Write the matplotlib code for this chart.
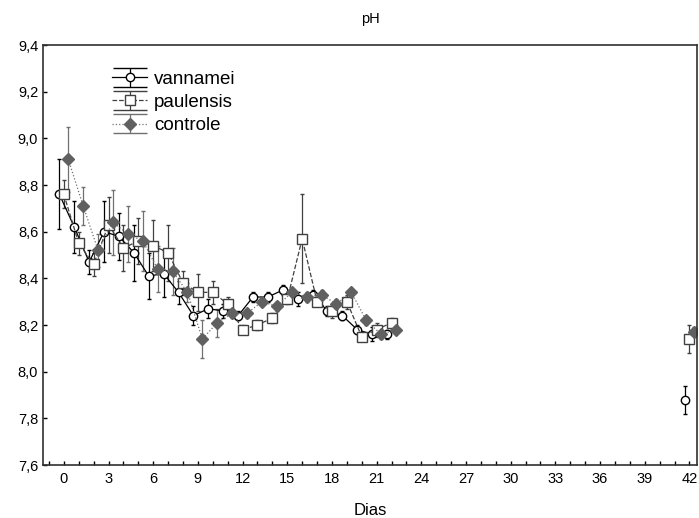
import numpy as np
import matplotlib
matplotlib.use('Agg')
import matplotlib.pyplot as plt
from matplotlib.lines import Line2D
from matplotlib.ticker import MultipleLocator, FuncFormatter

plt.rcParams['font.family'] = ['Liberation Sans', 'DejaVu Sans']

dias = [0, 1, 2, 3, 4, 5, 6, 7, 8, 9, 10, 11, 12, 13, 14, 15, 16, 17, 18,
        19, 20, 21, 22]
dia_final = [42]

vannamei = [8.76, 8.62, 8.47, 8.60, 8.58, 8.51, 8.41, 8.42, 8.34, 8.24, 8.27,
            8.26, 8.24, 8.32, 8.32, 8.35, 8.31, 8.33, 8.26, 8.24, 8.18, 8.16,
            8.16]
vannamei_err = [0.15, 0.11, 0.05, 0.13, 0.10, 0.12, 0.10, 0.10, 0.05, 0.04,
                0.04, 0.03, 0.02, 0.02, 0.02, 0.02, 0.03, 0.02, 0.02, 0.02,
                0.02, 0.03, 0.02]
paulensis = [8.76, 8.55, 8.46, 8.63, 8.53, 8.56, 8.54, 8.51, 8.38, 8.34, 8.34,
             8.29, 8.18, 8.20, 8.23, 8.31, 8.57, 8.30, 8.26, 8.30, 8.15, 8.18,
             8.21]
paulensis_err = [0.06, 0.05, 0.05, 0.12, 0.10, 0.10, 0.11, 0.12, 0.05, 0.08,
                 0.05, 0.03, 0.02, 0.02, 0.02, 0.02, 0.19, 0.02, 0.03, 0.03,
                 0.02, 0.03, 0.02]
controle = [8.91, 8.71, 8.52, 8.64, 8.59, 8.56, 8.44, 8.43, 8.34, 8.14, 8.21,
            8.25, 8.25, 8.30, 8.28, 8.34, 8.32, 8.33, 8.29, 8.34, 8.22, 8.16,
            8.18]
controle_err = [0.14, 0.08, 0.07, 0.14, 0.12, 0.13, 0.10, 0.10, 0.04, 0.08,
                0.06, 0.02, 0.02, 0.02, 0.02, 0.02, 0.02, 0.02, 0.02, 0.02,
                0.02, 0.02, 0.02]

# last sampling day (not connected to the series)
vannamei_42 = [7.88]
vannamei_42_err = [0.06]
paulensis_42 = [8.14]
paulensis_42_err = [0.06]
controle_42 = [8.17]
controle_42_err = [0.02]

series = [
    ('vannamei', vannamei, vannamei_err, vannamei_42, vannamei_42_err,
     -0.3, dict(color='black', ls='-', marker='o', ms=6, mfc='white',
                mec='black', ecolor='black')),
    ('paulensis', paulensis, paulensis_err, paulensis_42, paulensis_42_err,
     0.0, dict(color='#404040', ls='--', marker='s', ms=7.5, mfc='white',
               mec='#404040', ecolor='#404040')),
    ('controle', controle, controle_err, controle_42, controle_42_err,
     0.3, dict(color='#707070', ls=':', marker='D', ms=6, mfc='#606060',
               mec='#606060', ecolor='#707070')),
]

fig = plt.figure(figsize=(6.99, 5.18), dpi=100)
ax = fig.add_axes([0.0615, 0.1023, 0.9355, 0.8108])

for name, y, yerr, y42, y42err, dx, st in series:
    x = np.array(dias) + dx
    ax.errorbar(x, y, yerr=yerr, lw=0.9, elinewidth=0.9, capsize=1.5,
                label=name, **st)
    st2 = dict(st)
    st2['ls'] = 'none'
    ax.errorbar(np.array(dia_final) + dx, y42, yerr=y42err, elinewidth=0.9,
                capsize=1.5, **st2)

ax.set_xlim(-1.4, 42.5)
ax.set_ylim(7.6, 9.4)
ax.xaxis.set_major_locator(MultipleLocator(3))
ax.xaxis.set_minor_locator(MultipleLocator(1))
ax.yaxis.set_major_locator(MultipleLocator(0.2))
ax.yaxis.set_major_formatter(FuncFormatter(lambda v, p: f'{v:.1f}'.replace('.', ',')))
ax.tick_params(axis='both', which='both', direction='in', length=3,
               width=1, labelsize=10.5, top=False, right=False)
ax.tick_params(axis='x', pad=5)
for s in ax.spines.values():
    s.set_linewidth(1.2)
    s.set_color('#303030')

ax.set_title('pH', fontsize=10.5, pad=16)
ax.set_xlabel('Dias', fontsize=12, labelpad=12)

leg = ax.legend(loc='upper left', bbox_to_anchor=(0.085, 0.97),
                frameon=False, fontsize=13.5, handlelength=1.9,
                handletextpad=0.35, labelspacing=0.32, borderpad=0.2)
# wide caps in the legend, like the original
for ln in leg.findobj(Line2D):
    if ln.get_marker() == '_':
        ln.set_markersize(24)

fig.savefig('out.png', dpi=100)
